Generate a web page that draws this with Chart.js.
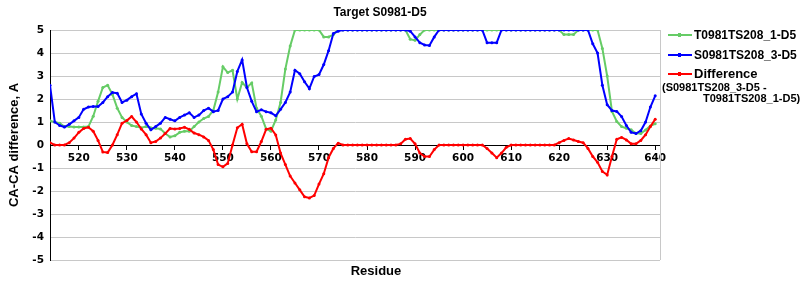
<!DOCTYPE html>
<html>
<head>
<meta charset="utf-8">
<script src="https://cdn.jsdelivr.net/npm/chart.js@4/dist/chart.umd.min.js"></script>
<style>
  body { margin: 0; background: #fff; }
  #wrap { position: relative; width: 800px; height: 300px; }
  #chart { position: absolute; left: 0; top: 0; }
  .legend { position: absolute; left: 0; top: 0; width: 800px; height: 300px; font-family: "Liberation Sans", Arial, sans-serif; font-weight: bold; color: #000; white-space: nowrap; }
  .row { position: absolute; left: 668px; height: 14px; }
  .row .mk { position: absolute; left: 0; top: 6px; width: 24px; height: 2px; }
  .row .mk i { position: absolute; left: 10px; top: -1px; width: 3px; height: 4px; background: inherit; }
  .row span { position: absolute; left: 26px; top: 0; font-size: 12px; line-height: 14px; }
  .sub { position: absolute; font-size: 11px; line-height: 12px; }
</style>
</head>
<body>
<div id="wrap">
  <canvas id="chart" width="800" height="300"></canvas>
  <div class="legend">
    <div class="row" style="top:28px"><div class="mk" style="background:#66cc66"><i></i></div><span id="lg0"></span></div>
    <div class="row" style="top:48px"><div class="mk" style="background:#0000ff"><i></i></div><span id="lg1"></span></div>
    <div class="row" style="top:67px"><div class="mk" style="background:#ff0000"><i></i></div><span id="lg2" style="font-size:13px"></span></div>
    <div class="sub" id="lg3" style="left:662px; top:81px"></div>
    <div class="sub" id="lg4" style="left:703px; top:92px"></div>
  </div>
</div>
<script>
const chartTitle = "Target S0981-D5";
const xTitle = "Residue";
const yTitle = "CA-CA difference, A";
const seriesNames = ["T0981TS208_1-D5", "S0981TS208_3-D5", "Difference"];
const diffNote = ["(S0981TS208_3-D5 -", "T0981TS208_1-D5)"];

const residues = [
  514, 515, 516, 517, 518, 519, 520, 521, 522, 523,
  524, 525, 526, 527, 528, 529, 530, 531, 532, 533,
  534, 535, 536, 537, 538, 539, 540, 541, 542, 543,
  544, 545, 546, 547, 548, 549, 550, 551, 552, 553,
  554, 555, 556, 557, 558, 559, 560, 561, 562, 563,
  564, 565, 566, 567, 568, 569, 570, 571, 572, 573,
  574, 575, 576, 577, 578, 579, 580, 581, 582, 583,
  584, 585, 586, 587, 588, 589, 590, 591, 592, 593,
  594, 595, 596, 597, 598, 599, 600, 601, 602, 603,
  604, 605, 606, 607, 608, 609, 610, 611, 612, 613,
  614, 615, 616, 617, 618, 619, 620, 621, 622, 623,
  624, 625, 626, 627, 628, 629, 630, 631, 632, 633,
  634, 635, 636, 637, 638, 639, 640
];

const greenValues = [
  1.05, 1.0, 0.95, 0.8, 0.8, 0.78, 0.78, 0.78, 0.8, 1.25,
  1.9, 2.5, 2.6, 2.2, 1.6, 1.2, 1.0, 0.85, 0.8, 0.75,
  0.8, 0.75, 0.73, 0.7, 0.5, 0.35, 0.4, 0.55, 0.6, 0.6,
  0.8, 1.0, 1.15, 1.24, 1.5, 2.3, 3.4, 3.15, 3.25, 2.0,
  2.72, 2.5, 2.7, 1.6, 1.25, 0.7, 0.6, 1.09, 1.85, 3.3,
  4.3, 5, 5, 5, 5, 5, 5, 4.7, 4.7, 4.8,
  5, 5, 5, 5, 5, 5, 5, 5, 5, 5,
  5, 5, 5, 5, 5, 4.6, 4.55, 4.8, 5, 5,
  5, 5, 5, 5, 5, 5, 5, 5, 5, 5,
  5, 5, 5, 5, 5, 5, 5, 5, 5, 5,
  5, 5, 5, 5, 5, 5, 5, 4.8, 4.8, 4.8,
  5, 5, 5, 5, 5, 4.2, 3.0, 1.46, 1.02, 0.8,
  0.73, 0.66, 0.51, 0.5, 0.65, 0.83, 0.92
];

const blueValues = [
  2.6, 1.0, 0.85, 0.78, 0.9, 1.05, 1.2, 1.55, 1.65, 1.67,
  1.67, 1.85, 2.1, 2.28, 2.25, 1.85, 1.95, 2.1, 2.23, 1.35,
  0.95, 0.66, 0.8, 0.95, 1.2, 1.12, 1.05, 1.2, 1.3, 1.4,
  1.2, 1.3, 1.5, 1.6, 1.45, 1.5, 2.0, 2.1, 2.3, 3.2,
  3.7, 2.5, 1.9, 1.45, 1.53, 1.45, 1.4, 1.27, 1.55, 1.85,
  2.3, 3.25, 3.1, 2.75, 2.45, 2.98, 3.06, 3.5, 4.1, 4.85,
  4.95, 5, 5, 5, 5, 5, 5, 5, 5, 5,
  5, 5, 5, 5, 5, 4.95, 4.7, 4.45, 4.35, 4.33,
  4.7, 5, 5, 5, 5, 5, 5, 5, 5, 5,
  5, 4.45, 4.45, 4.45, 5, 5, 5, 5, 5, 5,
  5, 5, 5, 5, 5, 5, 5, 5, 5, 5,
  5, 5, 5, 4.4, 4.0, 2.6, 1.75, 1.5, 1.46, 1.24,
  0.85, 0.55, 0.5, 0.62, 1.0, 1.65, 2.14
];

const diffValues = [
  0.1, 0, 0, 0, 0.1, 0.3, 0.55, 0.72, 0.77, 0.6,
  0.2, -0.3, -0.33, 0, 0.45, 0.95, 1.06, 1.24, 1.0, 0.7,
  0.45, 0.1, 0.15, 0.3, 0.5, 0.72, 0.7, 0.72, 0.77, 0.68,
  0.52, 0.45, 0.35, 0.2, -0.2, -0.85, -0.95, -0.8, 0.0, 0.75,
  0.9, 0.05, -0.29, -0.29, 0.15, 0.68, 0.73, 0.44, -0.35, -0.85,
  -1.35, -1.65, -1.95, -2.25, -2.3, -2.2, -1.7, -1.25, -0.55, -0.15,
  0.08, 0, 0, 0, 0, 0, 0, 0, 0, 0,
  0, 0, 0, 0.05, 0.25, 0.28, 0.05, -0.35, -0.5, -0.5,
  -0.2, 0, 0, 0, 0, 0, 0, 0, 0, 0,
  0, -0.15, -0.35, -0.55, -0.35, -0.1, 0, 0, 0, 0,
  0, 0, 0, 0, 0, 0, 0.1, 0.2, 0.28, 0.22,
  0.15, 0.1, -0.15, -0.5, -0.75, -1.15, -1.3, -0.5, 0.25, 0.33,
  0.22, 0.05, 0.05, 0.2, 0.45, 0.8, 1.12
];

const colors = ["#66cc66", "#0000ff", "#ff0000"];

document.getElementById("lg0").textContent = seriesNames[0];
document.getElementById("lg1").textContent = seriesNames[1];
document.getElementById("lg2").textContent = seriesNames[2];
document.getElementById("lg3").textContent = diffNote[0];
document.getElementById("lg4").textContent = diffNote[1];

function toPoints(values) {
  return values.map((v, i) => ({ x: residues[i], y: v }));
}

function lineSet(label, values, color, order) {
  return {
    label: label,
    data: toPoints(values),
    borderColor: color,
    backgroundColor: color,
    borderWidth: 2,
    pointRadius: 1.5,
    pointBorderWidth: 0,
    pointBackgroundColor: color,
    tension: 0,
    order: order,
  };
}

// title, x title and right frame line
const extraText = {
  id: "extraText",
  afterDraw(chart) {
    const { ctx, chartArea } = chart;
    ctx.save();
    ctx.strokeStyle = "#c8c8c8";
    ctx.lineWidth = 1;
    ctx.beginPath();
    ctx.moveTo(chartArea.right + 0.5, chartArea.top);
    ctx.lineTo(chartArea.right + 0.5, chartArea.bottom);
    ctx.stroke();
    ctx.fillStyle = "#000";
    ctx.textAlign = "center";
    ctx.textBaseline = "middle";
    ctx.font = 'bold 12px "Liberation Sans", Arial, sans-serif';
    ctx.fillText(chartTitle, 380, 13);
    ctx.font = 'bold 13px "Liberation Sans", Arial, sans-serif';
    ctx.fillText(xTitle, 376, 271);
    ctx.restore();
  },
};

const tickFont = { family: "DejaVu Sans", size: 10.5, weight: "bold" };

new Chart(document.getElementById("chart"), {
  type: "line",
  data: {
    datasets: [
      lineSet(seriesNames[0], greenValues, colors[0], 3),
      lineSet(seriesNames[1], blueValues, colors[1], 2),
      lineSet(seriesNames[2], diffValues, colors[2], 1),
    ],
  },
  options: {
    responsive: false,
    animation: false,
    devicePixelRatio: 1,
    layout: { padding: { top: 30, bottom: 40, left: 0, right: 140 } },
    plugins: {
      legend: { display: false },
      title: { display: false },
      tooltip: { enabled: false },
    },
    scales: {
      x: {
        type: "linear",
        min: 514,
        max: 641,
        position: { y: 0 },
        z: 1,
        ticks: { stepSize: 10, includeBounds: false, color: "#000", font: tickFont, padding: 3, maxRotation: 0 },
        grid: { drawOnChartArea: false, drawTicks: true, tickLength: 4, color: "#000" },
        border: { color: "#000", width: 1 },
      },
      y: {
        min: -5,
        max: 5,
        z: 1,
        afterFit: (scale) => { scale.width = 50; },
        ticks: { stepSize: 1, color: "#000", font: tickFont, padding: 6 },
        grid: { color: "#c8c8c8", drawTicks: false },
        border: { color: "#000", width: 1 },
        title: {
          display: true,
          text: yTitle,
          color: "#000",
          font: { family: "Liberation Sans", size: 13, weight: "bold" },
          padding: { top: 7, bottom: 0 },
        },
      },
    },
  },
  plugins: [extraText],
});
</script>
</body>
</html>
